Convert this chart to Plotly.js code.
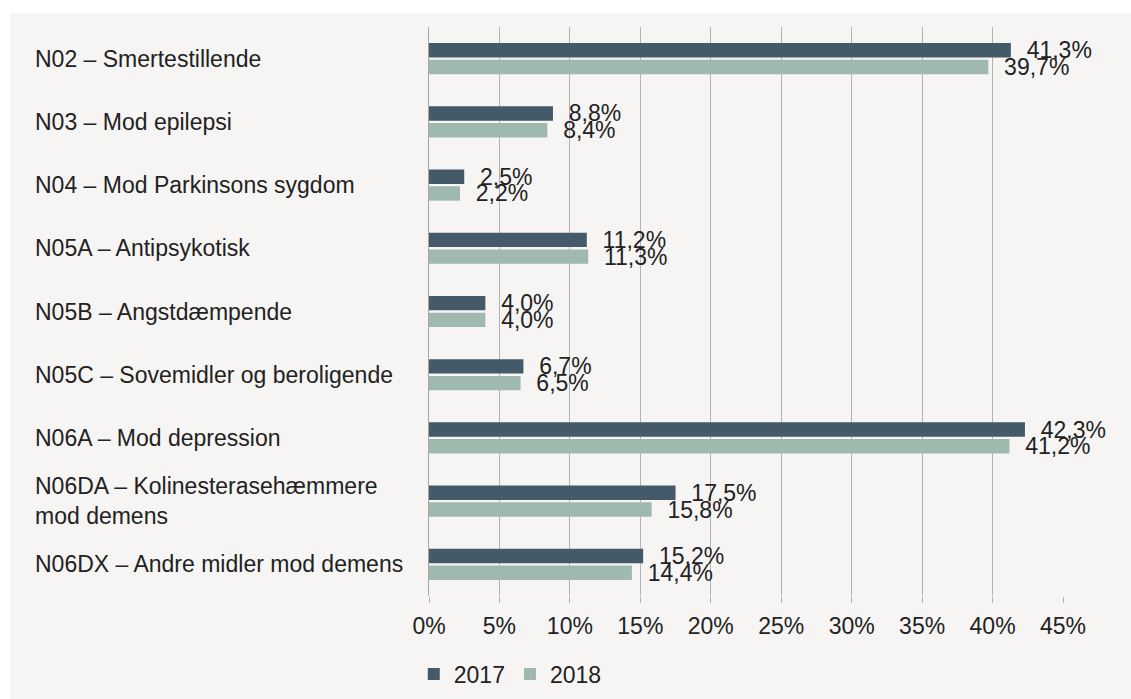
<!DOCTYPE html>
<html>
<head>
<meta charset="utf-8">
<script src="https://cdn.plot.ly/plotly-3.0.1.min.js"></script>
<style>
  html, body { margin: 0; padding: 0; background: #ffffff; }
  #chart { position: absolute; left: 10px; top: 13px; width: 1121px; height: 686px; }
</style>
</head>
<body>
<div id="chart"></div>
<script>
const categories = [
  "N02 – Smertestillende",
  "N03 – Mod epilepsi",
  "N04 – Mod Parkinsons sygdom",
  "N05A – Antipsykotisk",
  "N05B – Angstdæmpende",
  "N05C – Sovemidler og beroligende",
  "N06A – Mod depression",
  "N06DA – Kolinesterasehæmmere<br>mod demens",
  "N06DX – Andre midler mod demens"
];
const values2017 = [41.3, 8.8, 2.5, 11.2, 4.0, 6.7, 42.3, 17.5, 15.2];
const values2018 = [39.7, 8.4, 2.2, 11.3, 4.0, 6.5, 41.2, 15.8, 14.4];
const seriesNames = ["2017", "2018"];
const tickValues = [0, 5, 10, 15, 20, 25, 30, 35, 40, 45];
const tickLabels = ["0%", "5%", "10%", "15%", "20%", "25%", "30%", "35%", "40%", "45%"];

const FONT = "Liberation Sans, Arial, Helvetica, sans-serif";
const TXT = "#222222";
const colors = ["#455a69", "#9fb9af"];

function barTrace(name, vals, color) {
  return {
    type: "bar",
    orientation: "h",
    name: name,
    x: vals,
    y: categories,
    marker: { color: color, line: { width: 0 } },
    texttemplate: "\u00a0\u00a0%{x:.1f}%",
    textposition: "outside",
    constraintext: "none",
    cliponaxis: false,
    textfont: { family: FONT, size: 23, color: TXT },
    hoverinfo: "x+y"
  };
}

const data = [
  barTrace(seriesNames[0], values2017, colors[0]),
  barTrace(seriesNames[1], values2018, colors[1])
];

const annotations = categories.map(c => ({
  xref: "paper", yref: "y",
  x: -0.6246, y: c,
  xanchor: "left", yanchor: "middle", align: "left",
  text: c, showarrow: false,
  font: { family: FONT, size: 23, color: TXT }
}));

const layout = {
  width: 1121, height: 686,
  paper_bgcolor: "#f6f5f3",
  plot_bgcolor: "#f6f5f3",
  separators: ",.",
  margin: { l: 419, r: 68, t: 14, b: 103, autoexpand: false },
  barmode: "group",
  bargap: 0.47,
  bargroupgap: 0.14,
  font: { family: FONT, size: 23, color: TXT },
  xaxis: {
    range: [0, 45],
    tickmode: "array",
    tickvals: tickValues,
    ticktext: tickLabels,
    showgrid: true,
    gridcolor: "#b3b3b3",
    gridwidth: 1,
    zeroline: false,
    ticks: "outside",
    ticklen: 6,
    tickcolor: "#b3b3b3",
    ticklabelstandoff: 3,
    tickfont: { family: FONT, size: 23, color: TXT },
    automargin: false,
    fixedrange: true
  },
  yaxis: {
    type: "category",
    autorange: "reversed",
    showticklabels: false,
    showgrid: false,
    showline: true,
    linecolor: "#a6a6a6",
    linewidth: 1,
    ticks: "",
    automargin: false,
    fixedrange: true
  },
  showlegend: true,
  legend: {
    orientation: "h",
    x: -0.024, xanchor: "left",
    y: -0.137, yanchor: "middle",
    bgcolor: "rgba(0,0,0,0)",
    font: { family: FONT, size: 23, color: TXT },
    itemwidth: 30,
    traceorder: "normal"
  },
  annotations: annotations
};

Plotly.newPlot("chart", data, layout, { displayModeBar: false, staticPlot: true });
</script>
</body>
</html>
